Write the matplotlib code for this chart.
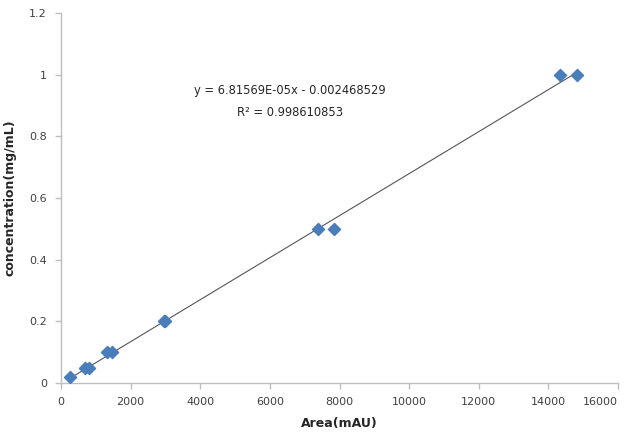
from matplotlib import pyplot as plt
import numpy as np

# calibration points
area = [260, 700, 800, 1320, 1480, 2950, 3000, 7390, 7850, 14340, 14820]
conc = [0.02, 0.05, 0.05, 0.1, 0.1, 0.2, 0.2, 0.5, 0.5, 1.0, 1.0]

slope = 6.81569e-05
intercept = -0.002468529
r2_text = "R\u00b2 = 0.998610853"
eq_text = "y = 6.81569E-05x - 0.002468529"

x_ticks = [0, 2000, 4000, 6000, 8000, 10000, 12000, 14000, 16000]
y_ticks = [0, 0.2, 0.4, 0.6, 0.8, 1, 1.2]
y_labels = ["0", "0.2", "0.4", "0.6", "0.8", "1", "1.2"]

fig = plt.figure(figsize=(6.34, 4.41), dpi=100)
ax = fig.add_axes([0.096, 0.1315, 0.879, 0.839])

xs = np.array([min(area), max(area)])
ax.plot(xs, slope * xs + intercept, color='#555555', lw=0.8, zorder=2)
ax.scatter(area, conc, marker='D', s=38, c='#4a7ebb', edgecolors='#4a7ebb', zorder=3)

ax.set_xlim(0, 16000)
ax.set_ylim(0, 1.2)
ax.set_xticks(x_ticks)
ax.set_xticklabels([str(t) for t in x_ticks])
ax.set_yticks(y_ticks)
ax.set_yticklabels(y_labels)

for s in ['top', 'right']:
    ax.spines[s].set_visible(False)
for s in ['left', 'bottom']:
    ax.spines[s].set_color('#bfbfbf')
    ax.spines[s].set_linewidth(1.0)
ax.tick_params(colors='#bfbfbf', labelcolor='#404040', labelsize=8, length=4, width=1)
ax.tick_params(axis='x', pad=6)
ax.tick_params(axis='y', pad=6)
# last label kept inside the figure, like Excel does
ax.get_xticklabels()[-1].set_horizontalalignment('right')

ax.set_xlabel('Area(mAU)', fontsize=9, fontweight='bold', color='#262626')
ax.set_ylabel('concentration(mg/mL)', fontsize=9, fontweight='bold', color='#262626')
ax.xaxis.set_label_coords(0.5, -0.092)
ax.yaxis.set_label_coords(-0.079, 0.5)

ax.text(6580, 0.95, eq_text, ha='center', va='center', fontsize=8.3, color='#262626')
ax.text(6580, 0.878, r2_text, ha='center', va='center', fontsize=8.3, color='#262626')

plt.savefig('out.png')
